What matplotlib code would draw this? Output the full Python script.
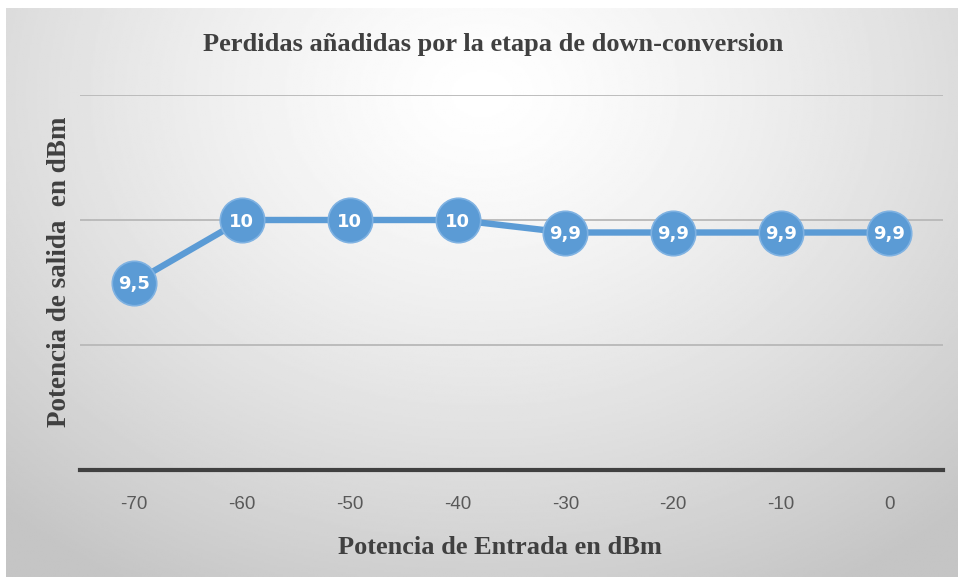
import numpy as np
import matplotlib.pyplot as plt

# datos de la medida
entrada = [-70, -60, -50, -40, -30, -20, -10, 0]
salida = [9.5, 10, 10, 10, 9.9, 9.9, 9.9, 9.9]
etiquetas = ['9,5', '10', '10', '10', '9,9', '9,9', '9,9', '9,9']

W, H = 962, 581
fig = plt.figure(figsize=(W / 100, H / 100), dpi=100)
fig.patch.set_facecolor('white')

# fondo con degradado radial
bg = fig.add_axes([6 / W, 4 / H, 952 / W, 569 / H])
yy, xx = np.mgrid[0:1:300j, 0:1:500j]
r = np.sqrt(((xx - 0.5) / 0.75) ** 2 + ((yy - 0.15) / 1.0) ** 2)
r = np.clip(r, 0, 1)
grad = 1.0 - 0.23 * r ** 1.3
bg.imshow(grad, cmap='gray', vmin=0, vmax=1, aspect='auto', extent=[0, 1, 1, 0])
bg.axis('off')

ax = fig.add_axes([80 / W, 1 - 470 / H, 863 / W, 375 / H])
ax.patch.set_alpha(0)
x = np.arange(len(entrada))
ax.set_xlim(-0.5, len(entrada) - 0.5)
ax.set_ylim(8, 11)
ax.set_yticks([8, 9, 10, 11])
ax.yaxis.grid(True, color='#b8b8b8', linewidth=1.3)
ax.set_axisbelow(True)
ax.tick_params(axis='y', left=False, labelleft=False)
ax.tick_params(axis='x', length=0, pad=19, labelsize=13.5, labelcolor='#595959')
ax.set_xticks(x)
ax.set_xticklabels([str(v) for v in entrada], fontfamily='Liberation Sans')
for s in ['top', 'right', 'left']:
    ax.spines[s].set_visible(False)
ax.spines['bottom'].set_color('#404040')
ax.spines['bottom'].set_linewidth(3)

ax.plot(x, salida, color='#5b9bd5', linewidth=4.6, marker='o', markersize=32,
        markerfacecolor='#5b9bd5', markeredgecolor='#7fb2e2', markeredgewidth=1.2,
        zorder=3)
for xi, yi, t in zip(x, salida, etiquetas):
    ax.text(xi, yi, t, ha='center', va='center_baseline', color='white', fontsize=13,
            fontweight='bold', fontfamily='DejaVu Sans', zorder=4)

fig.text(493 / W, 1 - 45 / H, 'Perdidas añadidas por la etapa de down-conversion',
         ha='center', va='center', fontsize=19, fontweight='bold',
         fontfamily='Liberation Serif', color='#404040')
fig.text(500 / W, 1 - 548 / H, 'Potencia de Entrada en dBm', ha='center', va='center',
         fontsize=19, fontweight='bold', fontfamily='Liberation Serif', color='#404040')
fig.text(60 / W, 1 - 272 / H, 'Potencia de salida  en dBm', ha='center', va='center',
         rotation=90, fontsize=19.5, fontweight='bold', fontfamily='Liberation Serif',
         color='#404040')

fig.savefig('out.png', dpi=100)
